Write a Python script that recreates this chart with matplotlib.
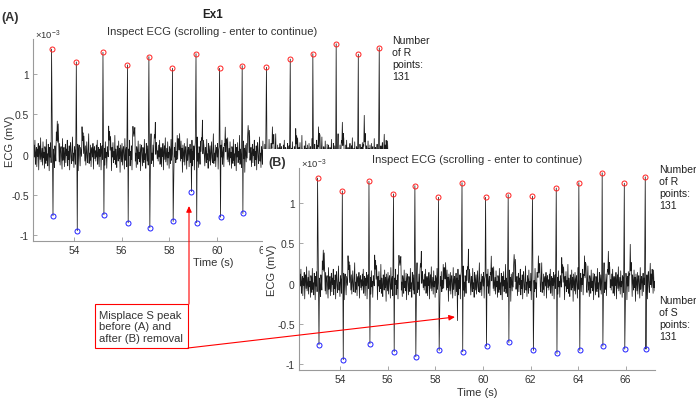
import numpy as np
import matplotlib.pyplot as plt
from matplotlib.patches import Rectangle, FancyArrowPatch

plt.rcParams['font.family'] = ['Liberation Sans', 'DejaVu Sans']
plt.rcParams['axes.unicode_minus'] = False
plt.rcParams['mathtext.fontset'] = 'custom'
plt.rcParams['mathtext.rm'] = 'Liberation Sans'
plt.rcParams['mathtext.it'] = 'Liberation Sans:italic'

# R and S peaks (time in s, ECG in units of 1e-3 mV)
r_time = [53.05, 54.09, 55.21, 56.24, 57.14, 58.13, 59.12, 60.11, 61.06, 62.08,
          63.08, 64.03, 65.01, 65.94, 66.82]
r_val = [1.315, 1.154, 1.274, 1.117, 1.22, 1.075, 1.257, 1.075, 1.108, 1.088,
         1.19, 1.257, 1.38, 1.25, 1.33]
s_time = [53.11, 54.13, 55.25, 56.27, 57.18, 58.16, 59.15, 60.15, 61.09, 62.12,
          63.11, 64.07, 65.04, 65.96, 66.85]
s_val = [-0.761, -0.947, -0.748, -0.848, -0.91, -0.831, -0.848, -0.778, -0.732, -0.831,
         -0.868, -0.831, -0.778, -0.815, -0.815]
# misplaced S point (only before removal, panel A)
bad_s_time = [58.92]
bad_s_val = [-0.46]
# T wave height after each beat
t_height = [0.5, 0.35, 0.37, 0.45, 0.35, 0.29, 0.4, 0.3, 0.39, 0.35, 0.3, 0.35, 0.39, 0.37, 0.15]
t_shape = [0.3, 0.6, 0.9, 1.0, 0.7, 0.35]
# baseline noise
noise = [0.05, -0.08, 0.12, -0.03, 0.18, -0.12, 0.02, 0.09, -0.15, 0.07,
         -0.02, 0.14, -0.19, 0.04, 0.11, -0.06, 0.21, -0.09, -0.01, 0.08,
         -0.13, 0.16, -0.04, 0.03, -0.17, 0.1, 0.06, -0.11, 0.19, -0.07,
         0.01, -0.14, 0.13, 0.05, -0.2, 0.09, -0.03, 0.15, -0.1, 0.04,
         -0.06, 0.24, -0.12, 0.07, -0.02, -0.16, 0.11, 0.03, -0.08, 0.17,
         -0.05, 0.08, -0.22, 0.12, 0.02, -0.09, 0.14, -0.13, 0.06, 0.1,
         -0.04, -0.18, 0.2, -0.07, 0.05, 0.09, -0.15, 0.03, 0.13, -0.1,
         0.07, -0.01, 0.18, -0.14, 0.04, -0.06, 0.11, -0.19, 0.08, 0.15,
         -0.03, -0.11, 0.06, 0.22, -0.08, 0.02, -0.16, 0.1, 0.05, -0.12,
         0.17, -0.05, 0.03, -0.09, 0.13, -0.2, 0.07, 0.12, -0.02, -0.14,
         0.09, 0.04, -0.1, 0.19, -0.06, 0.01, -0.17, 0.14, 0.06, -0.08,
         0.11, -0.13, 0.03, 0.16, -0.04, -0.1, 0.08, 0.26, -0.11, 0.02,
         -0.07, 0.12, -0.15, 0.05, 0.09, -0.03, 0.14, -0.18, 0.06, 0.1, -0.05]
x_ticks = [54, 56, 58, 60, 62, 64, 66]
y_ticks = [-1, -0.5, 0, 0.5, 1]

# build the trace
t_grid = np.round(np.arange(52.27, 67.235, 0.02), 2)
base = np.resize(np.array(noise), t_grid.size)
for tr, h in zip(r_time, t_height):
    i0 = np.searchsorted(t_grid, tr + 0.2)
    seg = np.array(t_shape) * h * 0.75
    n = min(len(seg), base.size - i0)
    base[i0:i0 + n] += seg[:n]
for tb, vb in zip(bad_s_time, bad_s_val):
    base[np.argmin(abs(t_grid - tb))] = vb
keep = np.ones(t_grid.size, bool)
for tr, ts in zip(r_time, s_time):
    keep &= ~((t_grid > tr - 0.015) & (t_grid < ts + 0.015))
ecg_t = np.concatenate([t_grid[keep], r_time, s_time])
ecg_v = np.concatenate([base[keep], r_val, s_val])
order = np.argsort(ecg_t)
ecg_t, ecg_v = ecg_t[order], ecg_v[order]

W, H = 696, 410
fig = plt.figure(figsize=(W / 100, H / 100), dpi=100)
txt = '#333333'


def fx(x):
    return x / W


def fy(y):
    return 1 - y / H


def draw_panel(ax, st, sv):
    ax.plot(ecg_t, ecg_v, color='#1a1a1a', lw=0.55)
    ax.plot(r_time, r_val, 'o', mfc='none', mec='#ff2020', ms=3.6, mew=0.7)
    ax.plot(st, sv, 'o', mfc='none', mec='#2020ff', ms=3.6, mew=0.7)
    ax.set_xlim(52.27, 67.23)
    ax.set_ylim(-1.075, 1.44)
    ax.set_xticks(x_ticks)
    ax.set_yticks(y_ticks)
    ax.set_yticklabels(['%g' % v for v in y_ticks])
    for side in ['top', 'right']:
        ax.spines[side].set_visible(False)
    for side in ['left', 'bottom']:
        ax.spines[side].set_color('#9a9a9a')
        ax.spines[side].set_linewidth(0.8)
    ax.tick_params(direction='in', length=3, width=0.6, color='#9a9a9a',
                   labelsize=7.4, labelcolor=txt, pad=3)


# panel A
axA = fig.add_axes([fx(33), fy(242), fx(356), 202 / H])
draw_panel(axA, sorted(s_time + bad_s_time),
           [v for _, v in sorted(zip(s_time + bad_s_time, s_val + bad_s_val))])
axA.set_zorder(0)

# white cover under panel B
fig.add_artist(Rectangle((fx(263), 0), 1 - fx(263), fy(150), transform=fig.transFigure,
                         facecolor='white', edgecolor='none', zorder=1))

# panel B
axB = fig.add_axes([fx(299), fy(371), fx(356), 202 / H])
draw_panel(axB, s_time, s_val)
axB.set_zorder(2)

# texts
fig.text(fx(10), fy(18), '(A)', fontsize=9, fontweight='bold', color=txt, ha='center', va='center')
fig.text(fx(277), fy(163), '(B)', fontsize=9, fontweight='bold', color=txt, ha='center', va='center', zorder=3)
fig.text(fx(213), fy(15), 'Ex1', fontsize=8.4, fontweight='bold', color='#222222', ha='center', va='center')
title = 'Inspect ECG (scrolling - enter to continue)'
fig.text(fx(212), fy(32), title, fontsize=8.1, color=txt, ha='center', va='center')
fig.text(fx(477), fy(160), title, fontsize=8.1, color=txt, ha='center', va='center', zorder=3)
fig.text(fx(35), fy(35), r'$\times10^{-3}$', fontsize=6.8, color=txt, ha='left', va='center')
fig.text(fx(301), fy(164), r'$\times10^{-3}$', fontsize=6.8, color=txt, ha='left', va='center', zorder=3)
fig.text(fx(10), fy(141), 'ECG (mV)', fontsize=8, color=txt, rotation=90, ha='center', va='center')
fig.text(fx(272), fy(270), 'ECG (mV)', fontsize=8, color=txt, rotation=90, ha='center', va='center', zorder=3)
fig.text(fx(213), fy(263), 'Time (s)', fontsize=8, color=txt, ha='center', va='center')
fig.text(fx(477), fy(393), 'Time (s)', fontsize=8, color=txt, ha='center', va='center', zorder=3)
fig.text(fx(392), fy(36), 'Number\nof R\npoints:\n' + str(131), fontsize=7.6, color='#222222',
         ha='left', va='top', linespacing=1.25)
fig.text(fx(659), fy(165), 'Number\nof R\npoints:\n' + str(131), fontsize=7.6, color='#222222',
         ha='left', va='top', linespacing=1.25, zorder=3)
fig.text(fx(659), fy(296), 'Number\nof S\npoints:\n' + str(131), fontsize=7.6, color='#222222',
         ha='left', va='top', linespacing=1.25, zorder=3)

# annotation box and arrows
fig.add_artist(Rectangle((fx(95), fy(349)), fx(93), 44 / H, transform=fig.transFigure,
                         facecolor='white', edgecolor='red', lw=0.8, zorder=4))
fig.text(fx(99), fy(327.5), 'Misplace S peak\nbefore (A) and\nafter (B) removal', fontsize=8.1,
         color=txt, ha='left', va='center', linespacing=1.2, zorder=5)
for tail, tip in [((189, 305), (189, 207)), ((188, 349), (455, 318))]:
    fig.add_artist(FancyArrowPatch((fx(tail[0]), fy(tail[1])), (fx(tip[0]), fy(tip[1])),
                                   transform=fig.transFigure, arrowstyle='-|>,head_length=3.5,head_width=1.6',
                                   color='red', lw=0.8, shrinkA=0, shrinkB=0, zorder=5))

fig.savefig('out.png', dpi=100)
